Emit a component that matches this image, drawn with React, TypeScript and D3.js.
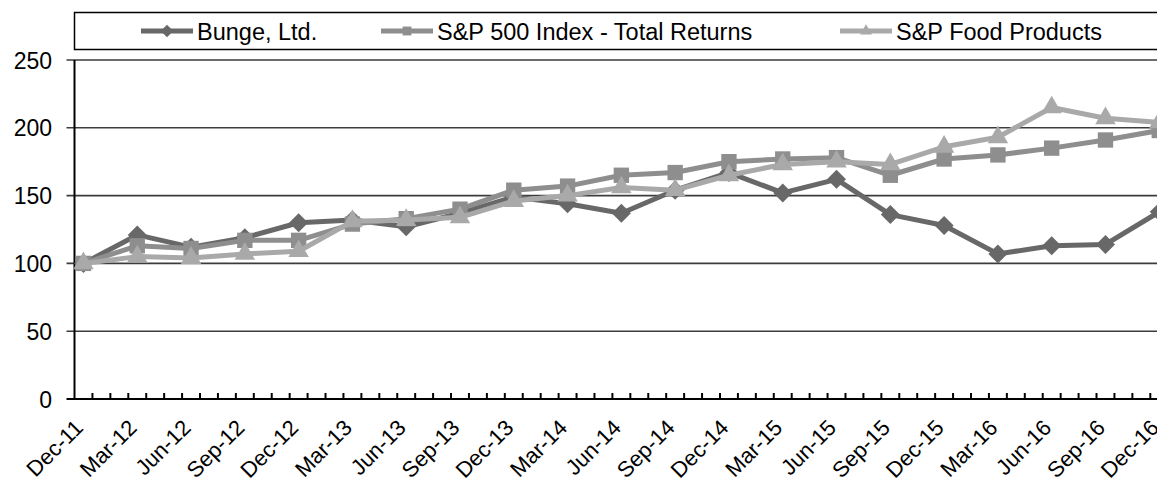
import * as React from "react";
import * as d3 from "d3";

// quarter-end labels, Dec-11 .. Dec-16
const quarters = [
  "Dec-11", "Mar-12", "Jun-12", "Sep-12", "Dec-12", "Mar-13", "Jun-13",
  "Sep-13", "Dec-13", "Mar-14", "Jun-14", "Sep-14", "Dec-14", "Mar-15",
  "Jun-15", "Sep-15", "Dec-15", "Mar-16", "Jun-16", "Sep-16", "Dec-16",
];

const bunge = [100, 121, 112, 119, 130, 132, 127, 137, 149, 144, 137, 154, 167, 152, 162, 136, 128, 107, 113, 114, 138];
const sp500 = [100, 113, 111, 117, 117, 129, 133, 140, 154, 157, 165, 167, 175, 177, 178, 165, 177, 180, 185, 191, 198];
const spFood = [100, 105, 104, 107, 109, 131, 132, 134, 146, 150, 156, 154, 165, 173, 175, 173, 186, 193, 215, 207, 204];

const yTicks = [0, 50, 100, 150, 200, 250];

const series = [
  { name: "Bunge, Ltd.", values: bunge, color: "#686868", symbol: d3.symbolDiamond2, size: 230 },
  { name: "S&P 500 Index - Total Returns", values: sp500, color: "#8e8e8e", symbol: d3.symbolSquare2, size: 300 },
  { name: "S&P Food Products", values: spFood, color: "#a9a9a9", symbol: d3.symbolTriangle2, size: 300 },
];

const Chart = () => {
  const svgRef = React.useRef(null);

  React.useEffect(() => {
    const width = 1157;
    const height = 486;
    const left = 74.5;
    const monthW = 17.93;
    const font = "Liberation Sans, Arial, sans-serif";

    const svg = d3.select(svgRef.current).attr("width", width).attr("height", height);
    svg.selectAll("*").remove();

    // x is a month axis, points sit in the middle of their month slot
    const x = d3.scaleLinear().domain([0, 61]).range([left, left + 61 * monthW]);
    const px = (i) => x(i * 3 + 0.5);
    const y = d3.scaleLinear().domain([0, 250]).range([399, 60]);

    // gridlines
    svg
      .append("g")
      .selectAll("line")
      .data(yTicks.filter((d) => d > 0))
      .enter()
      .append("line")
      .attr("x1", left - 8)
      .attr("x2", width)
      .attr("y1", (d) => y(d))
      .attr("y2", (d) => y(d))
      .attr("stroke", "#3c3c3c")
      .attr("stroke-width", 1.6);

    // y labels
    svg
      .append("g")
      .selectAll("text")
      .data(yTicks)
      .enter()
      .append("text")
      .attr("x", 52)
      .attr("y", (d) => y(d) + 8.5)
      .attr("text-anchor", "end")
      .attr("font-family", font)
      .attr("font-size", 23)
      .text((d) => d);

    // axes
    svg.append("line").attr("x1", left).attr("x2", left).attr("y1", 60).attr("y2", 399)
      .attr("stroke", "#000").attr("stroke-width", 2);
    svg.append("line").attr("x1", left - 8).attr("x2", width).attr("y1", 399).attr("y2", 399)
      .attr("stroke", "#000").attr("stroke-width", 2);

    // monthly minor ticks
    svg
      .append("g")
      .selectAll("line")
      .data(d3.range(1, 62))
      .enter()
      .append("line")
      .attr("x1", (d) => x(d))
      .attr("x2", (d) => x(d))
      .attr("y1", 399)
      .attr("y2", 393)
      .attr("stroke", "#000")
      .attr("stroke-width", 2);

    // x labels
    svg
      .append("g")
      .selectAll("text")
      .data(quarters)
      .enter()
      .append("text")
      .attr("transform", (d, i) => `translate(${px(i) + 1} ${429}) rotate(-45)`)
      .attr("text-anchor", "end")
      .attr("font-family", font)
      .attr("font-size", 22)
      .text((d) => d);

    const line = d3
      .line()
      .x((d, i) => px(i))
      .y((d) => y(d));

    series.forEach((s) => {
      const g = svg.append("g");
      g.append("path")
        .attr("d", line(s.values))
        .attr("fill", "none")
        .attr("stroke", s.color)
        .attr("stroke-width", 5)
        .attr("stroke-linejoin", "round");
      g.selectAll("path.m")
        .data(s.values)
        .enter()
        .append("path")
        .attr("class", "m")
        .attr("d", d3.symbol(s.symbol, s.size))
        .attr("transform", (d, i) => `translate(${px(i)} ${y(d)})`)
        .attr("fill", s.color);
    });

    // legend
    const lg = svg.append("g");
    lg.append("rect")
      .attr("x", left)
      .attr("y", 12.5)
      .attr("width", width)
      .attr("height", 37)
      .attr("fill", "#fff")
      .attr("stroke", "#000")
      .attr("stroke-width", 1.5);

    const legendX = [141, 381, 840];
    series.forEach((s, i) => {
      const g = lg.append("g").attr("transform", `translate(${legendX[i]} 31)`);
      g.append("line").attr("x1", 0).attr("x2", 52).attr("stroke", s.color).attr("stroke-width", 5);
      g.append("path").attr("d", d3.symbol(s.symbol, 100)).attr("transform", "translate(26 0)").attr("fill", s.color);
      g.append("text")
        .attr("x", 56)
        .attr("y", 8.5)
        .attr("font-family", font)
        .attr("font-size", 23.5)
        .text(s.name);
    });
  }, []);

  return <svg ref={svgRef} style={{ position: "absolute", left: 0, top: 0 }} />;
};

export default function App() {
  return <Chart />;
}
